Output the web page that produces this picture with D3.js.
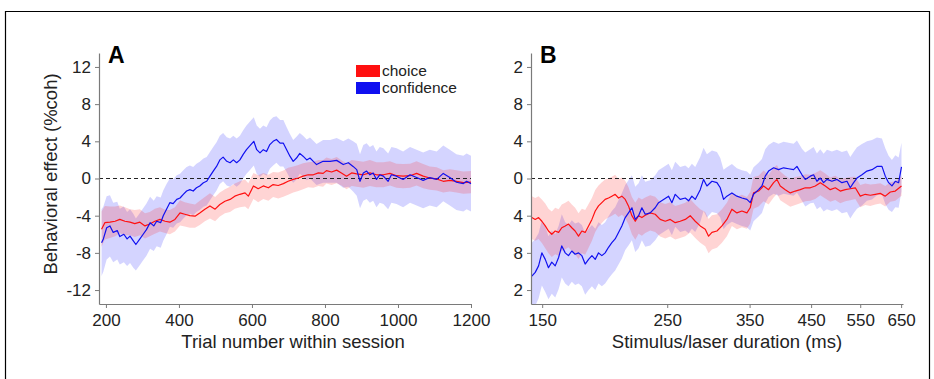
<!DOCTYPE html>
<html>
<head>
<meta charset="utf-8">
<script src="https://cdn.jsdelivr.net/npm/d3@7"></script>
<style>
  html, body { margin: 0; padding: 0; background: #fff; }
  svg { display: block; font-family: "Liberation Sans", Arial, Helvetica, sans-serif; }
</style>
</head>
<body>
<svg id="chart" width="934" height="379"></svg>
<script>
// ---------------- DATA ----------------
const yTicks = [-12, -8, -4, 0, 4, 8, 12];
const xTicksA = [200, 400, 600, 800, 1000, 1200];
const xTicksB = [150, 250, 350, 450, 550, 650];
const seriesNames = ["choice", "confidence"];

// Panel A: choice (red)
const trialChoiceA = [188,197,211,225,238,252,266,279,293,307,320,334,348,362,375,389,403,416,430,444,457,471,485,499,512,526,540,553,567,581,590,604,617,631,645,658,672,686,699,713,727,740,754,768,782,795,804,818,832,845,859,873,887,905,923,941,960,978,996,1014,1033,1051,1069,1087,1106,1124,1142,1160,1179,1200];
const choiceA = [-5.45,-4.75,-4.7,-4.6,-4.4,-4.6,-4.7,-4.85,-4.7,-5.1,-4.9,-4.6,-4.4,-4.6,-4.7,-4.4,-3.7,-3.85,-4.0,-4.05,-3.7,-3.3,-2.95,-3.3,-2.8,-2.45,-2.25,-1.9,-1.7,-1.55,-1.9,-0.8,-1.1,-0.8,-1.0,-0.65,-0.75,-0.55,-0.3,-0.1,0.05,0.25,0.4,0.4,0.6,0.55,0.85,0.7,0.9,0.6,0.25,0.6,0.5,0.4,0.6,0.4,0.4,0.55,0.3,0.25,0.3,0.55,0.25,0.05,-0.05,-0.3,-0.2,-0.3,-0.45,-0.4];
const choiceErrA = [1.9,1.8,1.7,1.6,1.5,1.5,1.4,1.45,1.4,1.35,1.3,1.35,1.3,1.25,1.3,1.3,1.35,1.3,1.3,1.25,1.3,1.3,1.35,1.3,1.3,1.3,1.35,1.35,1.4,1.45,1.4,1.4,1.45,1.4,1.4,1.35,1.4,1.4,1.45,1.4,1.4,1.4,1.35,1.4,1.4,1.45,1.4,1.4,1.4,1.35,1.4,1.4,1.4,1.4,1.4,1.35,1.35,1.3,1.3,1.3,1.3,1.3,1.3,1.25,1.25,1.2,1.2,1.2,1.2,1.2];

// Panel A: confidence (blue)
const trialConfA = [188,193,202,211,220,231,238,249,258,266,275,282,293,302,311,321,331,339,350,357,366,375,384,394,403,412,421,430,439,448,457,467,476,485,494,503,512,521,531,540,549,558,567,576,585,594,605,613,622,631,640,649,658,667,677,686,695,704,713,722,731,740,750,759,768,777,795,814,832,850,864,877,887,896,905,914,923,932,941,950,960,973,982,996,1014,1033,1051,1069,1087,1106,1124,1142,1160,1179,1188,1200];
const confA = [-6.9,-6.5,-5.3,-5.1,-5.8,-5.6,-6.25,-6.0,-6.5,-6.2,-6.7,-7.1,-6.5,-6.0,-5.5,-4.75,-5.1,-4.6,-4.75,-4.0,-3.3,-2.6,-2.7,-2.25,-2.1,-1.7,-1.35,-1.2,-1.35,-1.0,-0.8,-0.45,-0.3,0.25,0.8,1.3,2.0,2.3,1.85,1.7,2.0,1.7,2.0,2.6,3.1,3.5,4.0,3.1,2.75,3.1,2.9,3.65,4.0,4.2,3.8,3.8,3.1,2.4,1.85,2.2,2.7,2.4,2.0,2.2,1.85,1.5,1.85,1.85,1.95,1.5,1.7,1.3,0.95,-0.3,0.6,0.8,0.4,0.6,-0.1,0.4,0.25,-0.3,0.4,0.25,-0.1,0.4,0.1,-0.2,0.1,-0.1,0.55,0.1,-0.4,-0.55,-0.3,-0.55];
const confErrA = [3.6,3.5,3.4,3.3,3.2,3.1,3.0,3.0,2.9,2.9,2.9,2.8,2.8,2.8,2.8,2.8,2.7,2.7,2.7,2.7,2.7,2.6,2.6,2.6,2.6,2.6,2.6,2.6,2.6,2.6,2.6,2.6,2.6,2.6,2.6,2.6,2.6,2.6,2.6,2.6,2.6,2.6,2.6,2.6,2.6,2.6,2.6,2.6,2.6,2.6,2.6,2.6,2.6,2.5,2.5,2.5,2.4,2.4,2.3,2.3,2.2,2.2,2.2,2.2,2.2,2.2,2.3,2.3,2.4,2.5,2.6,2.7,2.8,2.9,3.0,3.0,3.0,3.0,3.0,3.0,3.0,3.0,3.0,3.0,3.0,3.0,3.0,3.0,3.0,3.0,3.0,3.0,3.0,3.0,3.0,3.0];

// Panel B: choice (red)
const durChoiceB = [143.8,145.8,147.8,149.8,151.9,153.9,156.0,158.2,160.4,162.5,164.8,167.0,169.3,171.6,174.0,176.4,178.8,181.3,183.8,186.3,188.8,191.4,194.0,196.7,199.4,202.1,204.9,207.7,210.6,213.4,216.4,219.4,222.4,225.4,228.5,233.2,238.0,242.9,248.0,253.1,258.3,263.6,269.1,274.6,280.3,286.1,292.0,296.0,300.1,306.3,312.6,319.0,325.6,332.3,339.2,346.2,350.9,355.7,363.1,370.6,378.2,386.1,391.4,396.7,404.9,413.3,421.8,430.5,439.4,448.5,457.7,467.2,476.8,486.6,496.7,506.9,517.4,528.1,539.0,550.1,561.5,573.1,584.9,597.0,609.3,621.9,634.7,651];
const choiceB = [-4.2,-4.4,-4.2,-4.6,-5.1,-5.65,-6.0,-5.65,-5.8,-5.3,-5.1,-4.9,-5.3,-5.65,-6.2,-5.65,-5.8,-5.1,-4.4,-3.5,-2.95,-2.6,-2.25,-2.1,-1.9,-1.7,-2.1,-1.9,-2.25,-2.95,-4.0,-4.6,-4.0,-4.2,-3.95,-3.7,-3.85,-4.4,-4.6,-4.4,-4.75,-4.6,-4.4,-4.0,-4.6,-5.1,-5.45,-6.2,-5.8,-5.65,-5.1,-4.4,-3.3,-3.7,-3.5,-3.7,-3.15,-1.55,-1.35,-0.8,-1.2,-0.45,-0.1,-0.8,-1.2,-1.55,-1.35,-1.2,-1.0,-1.0,-0.8,-0.45,-0.8,-1.2,-1.0,-1.35,-1.2,-1.1,-1.0,-1.9,-1.7,-1.8,-1.7,-1.6,-1.9,-1.45,-1.35,-0.8];
const choiceErrB = [2.3,2.3,2.3,2.35,2.4,2.4,2.45,2.5,2.5,2.5,2.5,2.5,2.5,2.5,2.45,2.4,2.4,2.35,2.3,2.25,2.2,2.2,2.15,2.1,2.1,2.1,2.05,2.0,2.0,2.0,2.0,2.0,1.95,1.95,1.9,1.9,1.9,1.85,1.85,1.85,1.8,1.8,1.8,1.8,1.8,1.8,1.85,1.85,1.85,1.8,1.8,1.8,1.8,1.75,1.75,1.7,1.7,1.7,1.65,1.65,1.6,1.6,1.55,1.55,1.5,1.5,1.5,1.45,1.45,1.4,1.4,1.35,1.35,1.3,1.3,1.3,1.25,1.25,1.2,1.2,1.15,1.15,1.1,1.1,1.1,1.05,1.05,1.05];

// Panel B: confidence (blue)
const durConfB = [143.8,145.8,147.8,149.8,151.9,153.9,156.0,158.2,160.4,162.5,164.8,167.0,169.3,171.6,174.0,176.4,178.8,181.3,183.8,186.3,188.8,191.4,194.0,196.7,199.4,202.1,204.9,207.7,210.6,213.4,216.4,219.4,222.4,225.4,228.5,233.2,238.0,241.3,246.3,251.4,254.8,258.3,263.6,269.1,272.8,276.5,280.3,286.1,290.0,294.0,300.1,306.3,310.5,314.7,319.0,325.6,332.3,339.2,346.2,350.9,355.7,363.1,368.1,373.1,378.2,386.1,394.0,402.2,410.5,418.9,424.7,433.5,439.4,448.5,454.6,460.8,467.2,473.6,480.1,490.0,500.1,510.4,521.0,528.1,535.3,542.7,553.9,565.3,577.0,588.9,601.0,609.3,617.6,626.1,634.7,643.4,651];
const confB = [-10.5,-10.1,-9.4,-8.0,-8.7,-9.6,-9.0,-9.4,-8.5,-7.25,-8.0,-8.3,-7.8,-8.15,-8.0,-8.3,-9.2,-8.7,-8.3,-8.7,-8.0,-8.3,-8.0,-7.4,-6.9,-6.5,-5.8,-5.1,-4.2,-3.7,-3.15,-4.4,-4.0,-3.15,-3.85,-3.7,-3.15,-2.6,-2.25,-1.9,-2.6,-1.7,-2.25,-2.1,-2.4,-1.9,-2.25,-1.2,-0.1,-0.8,-0.3,-0.45,-1.0,-2.25,-1.9,-1.55,-1.9,-2.1,-2.25,-2.6,-1.7,-1.2,-0.8,0.25,0.8,1.15,0.95,1.15,1.05,0.95,1.3,0.4,-0.1,0.25,0.4,-0.3,0.05,-0.45,-0.1,-0.3,-0.1,-0.45,-0.3,-1.0,-0.45,0.05,0.4,0.8,0.95,1.3,1.3,0.25,-0.45,-0.8,-0.3,-0.45,1.25];
const confErrB = [3.6,3.6,3.5,3.5,3.5,3.4,3.4,3.4,3.4,3.4,3.3,3.3,3.3,3.3,3.3,3.3,3.3,3.3,3.3,3.3,3.3,3.3,3.3,3.35,3.4,3.4,3.45,3.5,3.5,3.5,3.5,3.5,3.5,3.5,3.5,3.5,3.5,3.5,3.5,3.5,3.5,3.5,3.5,3.5,3.5,3.5,3.5,3.5,3.4,3.4,3.3,3.3,3.2,3.2,3.1,3.1,3.0,3.0,3.0,3.0,2.9,2.9,2.9,2.9,2.8,2.8,2.8,2.8,2.8,2.8,2.8,2.8,2.9,2.9,3.0,3.0,3.1,3.1,3.2,3.2,3.2,3.3,3.3,3.3,3.3,3.3,3.3,3.2,3.2,3.1,3.0,3.0,2.9,2.8,2.8,2.7,2.6];

// ---------------- DRAW ----------------
const svg = d3.select("#chart");
const font = '"Liberation Sans", Arial, Helvetica, sans-serif';
const axisColor = "#7a7a7a";
const textColor = "#222";
const RED = "#ff1010", BLUE = "#1010f0";
const RED_BAND = "rgba(255,40,40,0.20)", BLUE_BAND = "rgba(40,40,255,0.20)";
const fmt = d => String(d);

// frame
svg.append("path")
  .attr("d", "M5.5,379 V11.5 H929.5 V379")
  .attr("fill", "none").attr("stroke", "#000").attr("stroke-width", 1.2);

const yTop = 53, yBot = 304;
const y = d3.scaleLinear().domain([-13.5, 13.5]).range([yBot, yTop]);

function toPts(xs, ms, es) {
  return xs.map((x, i) => ({x: x, m: ms[i], e: es[i]}));
}

function panel(opts) {
  const {x, id, letter, letterX, title, titleX, xTicks, choice, conf, clipLabelsFrom} = opts;
  const [x0, x1] = x.range();
  const g = svg.append("g");

  const clipId = "clip" + id;
  svg.append("clipPath").attr("id", clipId)
    .append("rect").attr("x", x0).attr("y", yTop).attr("width", x1 - x0 + 1).attr("height", yBot - yTop);

  const plot = g.append("g").attr("clip-path", `url(#${clipId})`);

  const area = d3.area().x(d => x(d.x)).y0(d => y(d.m - d.e)).y1(d => y(d.m + d.e));
  const line = d3.line().x(d => x(d.x)).y(d => y(d.m));

  plot.append("path").datum(conf).attr("d", area).attr("fill", BLUE_BAND);
  plot.append("path").datum(choice).attr("d", area).attr("fill", RED_BAND);

  plot.append("line")
    .attr("x1", x0).attr("x2", x1).attr("y1", y(0)).attr("y2", y(0))
    .attr("stroke", "#222").attr("stroke-width", 1).attr("stroke-dasharray", "4,3");

  plot.append("path").datum(choice).attr("d", line)
    .attr("fill", "none").attr("stroke", RED).attr("stroke-width", 1.2).attr("stroke-linejoin", "round");
  plot.append("path").datum(conf).attr("d", line)
    .attr("fill", "none").attr("stroke", BLUE).attr("stroke-width", 1.2).attr("stroke-linejoin", "round");

  const yAxisG = g.append("g").attr("transform", `translate(${x0},0)`)
    .call(d3.axisLeft(y).tickValues(yTicks).tickSize(4).tickSizeOuter(0).tickPadding(4).tickFormat(fmt));
  if (clipLabelsFrom !== undefined) {
    const lc = "lclip" + id;
    svg.append("clipPath").attr("id", lc)
      .append("rect").attr("x", clipLabelsFrom - x0).attr("y", 0).attr("width", 100).attr("height", 379);
    yAxisG.attr("clip-path", `url(#${lc})`);
  }

  const xAxisG = g.append("g").attr("transform", `translate(0,${yBot})`)
    .call(d3.axisBottom(x).tickValues(xTicks).tickSize(4).tickSizeOuter(0).tickPadding(6).tickFormat(fmt));

  [yAxisG, xAxisG].forEach(a => {
    a.select(".domain").attr("stroke", axisColor).attr("stroke-width", 1.2);
    a.selectAll(".tick line").attr("stroke", axisColor).attr("stroke-width", 1);
    a.selectAll(".tick text").attr("fill", textColor).style("font-size", "17px").style("font-family", font);
  });

  g.append("text").attr("x", letterX).attr("y", 63)
    .style("font-family", font).style("font-weight", "bold").style("font-size", "23px")
    .attr("fill", "#000").text(letter);

  g.append("text").attr("x", titleX).attr("y", 348).attr("text-anchor", "middle")
    .style("font-family", font).style("font-size", "18.5px").attr("fill", textColor).text(title);
}

const xA = d3.scaleLinear().domain([181, 1200]).range([99, 471]);
const xB = d3.scaleLog().domain([143.3, 655]).range([531, 903]);

panel({
  x: xA, id: "A", letter: "A", letterX: 108,
  title: "Trial number within session", titleX: 293, xTicks: xTicksA,
  choice: toPts(trialChoiceA, choiceA, choiceErrA),
  conf: toPts(trialConfA, confA, confErrA)
});
panel({
  x: xB, id: "B", letter: "B", letterX: 540,
  title: "Stimulus/laser duration (ms)", titleX: 727, xTicks: xTicksB,
  choice: toPts(durChoiceB, choiceB, choiceErrB),
  conf: toPts(durConfB, confB, confErrB),
  clipLabelsFrom: 513
});

svg.append("text")
  .attr("transform", "translate(57,174) rotate(-90)")
  .attr("text-anchor", "middle")
  .style("font-family", font).style("font-size", "18.5px").attr("fill", textColor)
  .text("Behavioral effect (%coh)");

const legend = svg.append("g");
const legendColors = [RED, BLUE];
seriesNames.forEach((name, i) => {
  legend.append("rect").attr("x", 356).attr("y", 65 + i * 17).attr("width", 24).attr("height", 12)
    .attr("fill", legendColors[i]);
  legend.append("text").attr("x", 382).attr("y", 76 + i * 17)
    .style("font-family", font).style("font-size", "15.5px").attr("fill", textColor).text(name);
});
</script>
</body>
</html>
